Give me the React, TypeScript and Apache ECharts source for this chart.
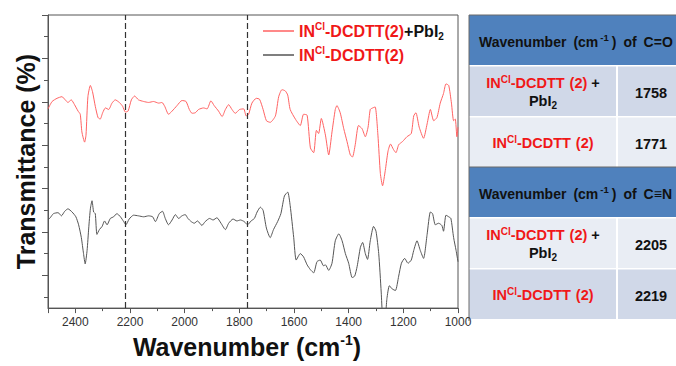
import React, { useEffect, useRef } from "react";
import * as echarts from "echarts";

// ---------- data ----------
const SERIES_NAMES = ["INCl-DCDTT(2)+PbI2", "INCl-DCDTT(2)"];

// [wavenumber (cm-1), transmittance (a.u., offset spectra)]
const RED_SPECTRUM: [number, number][] = [
  [2500, 207.3], [2485, 215], [2467, 218.3], [2449, 220], [2437, 216.7], [2427, 214], [2415, 216.7],
  [2403, 211.7], [2390, 205], [2382, 201.7], [2376, 183.3], [2366, 172.7], [2361, 180], [2354, 220],
  [2345, 231.7], [2337, 225], [2327, 210], [2317, 198.3], [2309, 196.7], [2300, 203.3], [2290, 208.3],
  [2278, 206.7], [2266, 213.3], [2254, 216.7], [2239, 214], [2227, 210], [2217, 204], [2207, 205],
  [2195, 216.7], [2183, 220.7], [2169, 216.7], [2150, 215], [2132, 214], [2114, 215], [2095, 213.3],
  [2083, 214], [2073, 210], [2059, 201.7], [2046, 205], [2028, 210.7], [2010, 216], [1995, 215],
  [1983, 206.7], [1973, 202.7], [1961, 203.3], [1949, 206.7], [1931, 208.3], [1918, 207.3], [1904, 215.7],
  [1892, 210.7], [1876, 205], [1863, 199.3], [1851, 206.7], [1839, 211.7], [1827, 206.7], [1815, 202.7],
  [1799, 206.7], [1784, 207.3], [1775, 200], [1766, 201.7], [1754, 213.3], [1738, 218.3], [1726, 217.3],
  [1713, 206.7], [1701, 195], [1687, 193.3], [1668, 200], [1656, 220], [1644, 227.3], [1632, 226],
  [1623, 221.7], [1614, 206.7], [1595, 196.7], [1577, 190], [1565, 201.7], [1552, 200.7], [1540, 166.7],
  [1528, 161.7], [1518, 185], [1510, 181.7], [1500, 197.3], [1485, 180], [1473, 159.3], [1461, 183.3],
  [1449, 206.7], [1443, 210.7], [1431, 203.3], [1418, 186.7], [1406, 173.3], [1394, 159.3], [1386, 157.3],
  [1376, 170], [1364, 190], [1351, 186.7], [1339, 178.3], [1329, 188.3], [1321, 206.7], [1312, 208.3],
  [1303, 209.3], [1293, 180], [1284, 140], [1276, 127.3], [1266, 143.3], [1256, 163.3], [1247, 170.7],
  [1236, 165], [1227, 161.7], [1217, 170], [1203, 173.3], [1187, 178.3], [1171, 181.7], [1162, 200],
  [1154, 203.3], [1142, 188.3], [1126, 176.7], [1113, 191.7], [1101, 206.7], [1089, 195], [1077, 198.3],
  [1065, 213.3], [1053, 223.3], [1044, 233.3], [1034, 231.7], [1024, 213.3], [1016, 195], [1010, 196.7],
  [1004, 178.3], [1000, 188.3],
];

const BLACK_SPECTRUM: [number, number][] = [
  [2500, 91.7], [2492, 94], [2480, 98.3], [2463, 99.3], [2451, 96], [2439, 100.7], [2427, 103.3],
  [2412, 100], [2398, 95], [2388, 86.7], [2378, 73.3], [2370, 56.7], [2364, 46], [2357, 60],
  [2351, 83.3], [2345, 103.3], [2339, 111.7], [2333, 100], [2327, 98.3], [2321, 76.7], [2312, 81.7],
  [2302, 85], [2293, 90.7], [2284, 86.7], [2272, 93.3], [2260, 95], [2248, 98.3], [2235, 95],
  [2223, 90], [2215, 86.7], [2203, 92.7], [2187, 96.7], [2169, 96], [2150, 95], [2132, 96],
  [2117, 95], [2107, 90], [2093, 98.3], [2081, 100.7], [2071, 93.3], [2059, 86.7], [2046, 91.7],
  [2034, 97.3], [2022, 93.3], [2010, 96], [1998, 97.3], [1988, 93.3], [1976, 90], [1965, 88.3],
  [1953, 90.7], [1937, 86], [1925, 90], [1909, 93.3], [1896, 91.7], [1882, 94], [1867, 88.3],
  [1851, 81.7], [1839, 88.3], [1823, 92.7], [1809, 90.7], [1796, 91.7], [1782, 90], [1770, 86.7],
  [1757, 90.7], [1745, 93.3], [1735, 100], [1723, 105], [1713, 101.7], [1701, 83.3], [1687, 73.3],
  [1675, 81.7], [1660, 90], [1648, 98.3], [1635, 116.7], [1623, 120.7], [1614, 106.7], [1601, 73.3],
  [1592, 50], [1577, 56.7], [1565, 53.3], [1552, 45], [1540, 40], [1528, 36.7], [1516, 48.3],
  [1504, 50], [1492, 44], [1485, 45], [1473, 39.3], [1461, 46.7], [1449, 70], [1436, 77.3],
  [1424, 70], [1412, 56.7], [1400, 46.7], [1387, 31.7], [1378, 33.3], [1369, 43.3], [1357, 63.3],
  [1349, 68.3], [1339, 56.7], [1331, 50.7], [1321, 70], [1309, 85], [1300, 80], [1290, 56.7],
  [1281, 16.7], [1276, -8], [1268, -15], [1260, 10], [1251, 23.3], [1241, 20], [1229, 18.3],
  [1217, 33.3], [1207, 46.7], [1195, 51.7], [1183, 46.7], [1171, 50], [1162, 60], [1150, 70],
  [1138, 60], [1126, 51.7], [1113, 76.7], [1101, 100], [1093, 98.3], [1083, 86.7], [1071, 88.3],
  [1059, 86], [1053, 80], [1044, 96.7], [1034, 95], [1026, 93.3], [1016, 73.3], [1007, 60],
  [1000, 48.3],
];

const MARK_WAVENUMBERS = [2219, 1771];
const X_MIN = 1000;
const X_MAX = 2500;
const X_INTERVAL = 200;
const Y_MIN = 0;
const Y_MAX = 305;
const Y_MAJOR_TICKS = [34, 79.2, 124.3, 169.5, 214.7, 259.8, 305];
const Y_MINOR_TICKS = [11.4, 56.6, 101.8, 146.9, 192.1, 237.2, 282.4];

// table content
const TABLE_HEADERS = ["C=O", "C≡N"];
const TABLE_VALUES = [
  ["1758", "1771"],
  ["2205", "2219"],
];

// ---------- styles ----------
const FONT = "'Liberation Sans', Arial, Helvetica, sans-serif";
const RED_TEXT = "#f01818";
const RED_LINE = "#ff6262";
const BLACK_LINE = "#555555";
const AXIS_COLOR = "#555555";
const HEADER_BG = "#4f81bd";
const ROW_DARK = "#d0d8e8";
const ROW_LIGHT = "#e9edf4";

function buildTable(): any[] {
  const x0 = 469;
  const colSplit = 617;
  const right = 720;
  const els: any[] = [];
  els.push({ type: "rect", shape: { x: x0, y: 15, width: right - x0, height: 306 }, style: { fill: "#ffffff" }, silent: true });

  const sectionTops = [15, 167];
  const cs = { fontFamily: FONT, fontWeight: "bold" };
  const rich = {
    r: { ...cs, fontSize: 14.5, fill: RED_TEXT, lineHeight: 18 },
    rs: { ...cs, fontSize: 10, fill: RED_TEXT, lineHeight: 13, verticalAlign: "top" },
    rp: { ...cs, fontSize: 14.5, fill: RED_TEXT, lineHeight: 18, padding: [0, 0, 0, 5] },
    k: { ...cs, fontSize: 14.5, fill: "#111111", lineHeight: 18 },
    ks: { ...cs, fontSize: 10, fill: "#111111", lineHeight: 10, verticalAlign: "bottom" },
    h: { ...cs, fontSize: 14, fill: "#111111", lineHeight: 18 },
    h3: { ...cs, fontSize: 14, fill: "#111111", lineHeight: 18, padding: [0, 0, 0, 3] },
    h5: { ...cs, fontSize: 14, fill: "#111111", lineHeight: 18, padding: [0, 0, 0, 7] },
    hs: { ...cs, fontSize: 9.5, fill: "#111111", lineHeight: 13, verticalAlign: "top", padding: [0, 0, 0, 2] },
  };

  sectionTops.forEach((top, si) => {
    els.push({ type: "rect", shape: { x: x0, y: top, width: right - x0, height: 50 }, style: { fill: HEADER_BG }, silent: true });
    els.push({
      type: "text",
      x: 479,
      y: top + 26.5,
      silent: true,
      style: {
        text: `{h|Wavenumber}{h5|(cm}{hs|-1}{h3|)}{h5|of}{h5|${TABLE_HEADERS[si]}}`,
        rich,
        align: "left",
        verticalAlign: "middle",
      },
    });
    const rowTops = [top + 50, top + 101];
    const rowColors = si === 0 ? [ROW_DARK, ROW_LIGHT] : [ROW_LIGHT, ROW_DARK];
    rowTops.forEach((ry, ri) => {
      const h = 51;
      els.push({ type: "rect", shape: { x: x0, y: ry + 1.5, width: colSplit - x0 - 1, height: h - 1.5 }, style: { fill: rowColors[ri] }, silent: true });
      els.push({ type: "rect", shape: { x: colSplit + 1, y: ry + 1.5, width: right - colSplit, height: h - 1.5 }, style: { fill: rowColors[ri] }, silent: true });
      const cy = ry + h / 2 + 0.5;
      if (ri === 0) {
        els.push({
          type: "text", x: 543, y: cy - 8, silent: true,
          style: { text: "{r|IN}{rs|Cl}{r|-DCDTT}{rp|(2)}{k| +}", rich, align: "center", verticalAlign: "middle" },
        });
        els.push({
          type: "text", x: 543, y: cy + 10, silent: true,
          style: { text: "{k|PbI}{ks|2}", rich, align: "center", verticalAlign: "middle" },
        });
      } else {
        els.push({
          type: "text", x: 543, y: cy + 1, silent: true,
          style: { text: "{r|IN}{rs|Cl}{r|-DCDTT}{rp|(2)}", rich, align: "center", verticalAlign: "middle" },
        });
      }
      els.push({
        type: "text", x: 651, y: cy + 1.5, silent: true,
        style: { text: `{k|${TABLE_VALUES[si][ri]}}`, rich, align: "center", verticalAlign: "middle" },
      });
    });
  });
  els.push({ type: "line", shape: { x1: x0, y1: 15, x2: x0, y2: 321 }, style: { stroke: "#6b6b6b", lineWidth: 1 }, silent: true });
  els.push({ type: "line", shape: { x1: x0, y1: 15, x2: right, y2: 15 }, style: { stroke: "#6b6b6b", lineWidth: 1 }, silent: true });
  els.push({ type: "line", shape: { x1: x0, y1: 167, x2: right, y2: 167 }, style: { stroke: "#6b6b6b", lineWidth: 1 }, silent: true });
  return els;
}

export default function App() {
  const ref = useRef<HTMLDivElement>(null);

  useEffect(() => {
    if (!ref.current) return;
    const chart = echarts.init(ref.current, null, { renderer: "svg" });

    const legendRich = {
      r: { color: RED_TEXT, fontSize: 16, fontWeight: "bold", fontFamily: FONT, lineHeight: 20 },
      rs: { color: RED_TEXT, fontSize: 10, fontWeight: "bold", fontFamily: FONT, lineHeight: 14, verticalAlign: "top" },
      k: { color: "#111111", fontSize: 16, fontWeight: "bold", fontFamily: FONT, lineHeight: 20 },
      ks: { color: "#111111", fontSize: 10, fontWeight: "bold", fontFamily: FONT, lineHeight: 11, verticalAlign: "bottom" },
    };

    const option: any = {
      animation: false,
      backgroundColor: "#ffffff",
      grid: {
        left: 48,
        top: 15,
        width: 410,
        height: 305,
        show: true,
        borderColor: AXIS_COLOR,
        borderWidth: 1,
        backgroundColor: "transparent",
      },
      legend: {
        orient: "vertical",
        left: 258,
        top: 16,
        itemWidth: 31,
        itemHeight: 1.5,
        itemGap: 4,
        icon: "rect",
        selectedMode: false,
        data: SERIES_NAMES,
        formatter: (name: string) =>
          name === SERIES_NAMES[0]
            ? "{r|IN}{rs|Cl}{r|-DCDTT(2)}{k|+PbI}{ks|2}"
            : "{r|IN}{rs|Cl}{r|-DCDTT(2)}",
        textStyle: { fontFamily: FONT, fontSize: 16, rich: legendRich },
      },
      xAxis: {
        type: "value",
        min: X_MIN,
        max: X_MAX,
        interval: X_INTERVAL,
        inverse: true,
        name: "Wavenumber (cm{s|-1})",
        nameLocation: "middle",
        nameGap: 21,
        nameTextStyle: {
          fontFamily: FONT,
          fontSize: 25,
          fontWeight: "bold",
          color: "#111111",
          lineHeight: 28,
          padding: [0, 12, 0, 0],
          rich: {
            s: { fontFamily: FONT, fontSize: 14, fontWeight: "bold", color: "#111111", lineHeight: 18, verticalAlign: "top" },
          },
        },
        axisLine: { show: true, lineStyle: { color: AXIS_COLOR, width: 1 } },
        axisTick: { show: true, inside: false, length: 5, lineStyle: { color: AXIS_COLOR } },
        minorTick: { show: true, splitNumber: 2, length: 3, lineStyle: { color: AXIS_COLOR } },
        axisLabel: {
          show: true,
          showMaxLabel: false,
          fontFamily: FONT,
          fontSize: 12,
          color: "#333333",
          margin: 8,
          formatter: (v: number) => String(v),
        },
        splitLine: { show: false },
        minorSplitLine: { show: false },
      },
      yAxis: [
        {
          type: "value",
          min: Y_MIN,
          max: Y_MAX,
          position: "left",
          name: "Transmittance (%)",
          nameLocation: "middle",
          nameGap: 10,
          nameTextStyle: { fontFamily: FONT, fontSize: 25, fontWeight: "bold", color: "#111111" },
          axisLine: { show: true, lineStyle: { color: AXIS_COLOR, width: 1 } },
          axisTick: { show: true, inside: false, length: 6, customValues: Y_MAJOR_TICKS, lineStyle: { color: AXIS_COLOR } },
          axisLabel: { show: false },
          splitLine: { show: false },
        },
        {
          type: "value",
          min: Y_MIN,
          max: Y_MAX,
          position: "left",
          axisLine: { show: false },
          axisTick: { show: true, inside: false, length: 4, customValues: Y_MINOR_TICKS, lineStyle: { color: AXIS_COLOR } },
          axisLabel: { show: false },
          splitLine: { show: false },
        },
      ],
      series: [
        {
          name: SERIES_NAMES[0],
          type: "line",
          data: RED_SPECTRUM,
          showSymbol: false,
          symbol: "none",
          smooth: 0.2,
          clip: true,
          lineStyle: { color: RED_LINE, width: 1 },
          itemStyle: { color: RED_LINE },
          markLine: {
            silent: true,
            symbol: "none",
            label: { show: false },
            lineStyle: { color: "#333333", width: 1.2, type: [6, 3] },
            data: MARK_WAVENUMBERS.map((v) => ({ xAxis: v })),
          },
          z: 3,
        },
        {
          name: SERIES_NAMES[1],
          type: "line",
          data: BLACK_SPECTRUM,
          showSymbol: false,
          symbol: "none",
          smooth: 0.2,
          clip: true,
          lineStyle: { color: BLACK_LINE, width: 1 },
          itemStyle: { color: BLACK_LINE },
          z: 3,
        },
      ],
      graphic: buildTable(),
    };

    chart.setOption(option);
    return () => {
      chart.dispose();
    };
  }, []);

  return (
    <div
      ref={ref}
      style={{ position: "fixed", left: 0, top: 0, width: 676, height: 366, background: "#ffffff" }}
    />
  );
}
